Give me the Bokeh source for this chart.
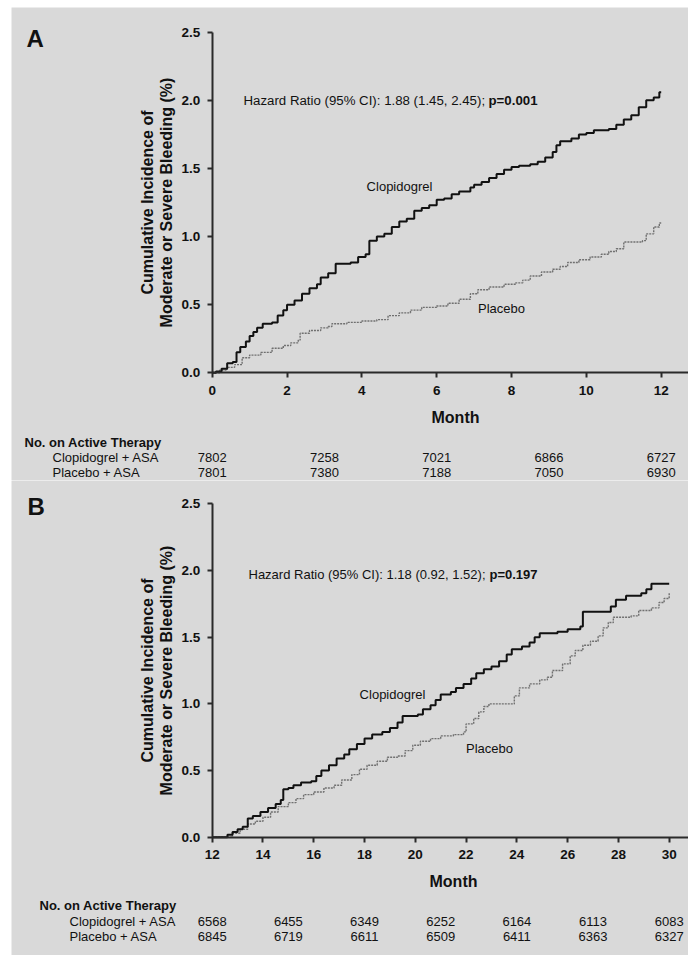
from bokeh.plotting import figure
from bokeh.models import (Range1d, Label, LabelSet, ColumnDataSource,
                          FixedTicker, NumeralTickFormatter)
from bokeh.layouts import column
from bokeh.core.properties import value
from bokeh.embed import file_html
from bokeh.resources import INLINE
import math

FONT = "Liberation Sans"
BG = "#d9d9d9"
INK = "#111111"

# ---------------- Panel A data (months 0-12) ----------------
a_clop_month = [0.0, 0.1, 0.25, 0.4, 0.55, 0.65, 0.75, 0.9, 1.0, 1.1, 1.2, 1.35, 1.6, 1.75,
                1.9, 2.0, 2.2, 2.4, 2.6, 2.8, 2.9, 3.1, 3.3, 3.7, 3.9, 4.1, 4.2, 4.4, 4.6,
                4.8, 5.0, 5.2, 5.4, 5.6, 5.8, 6.0, 6.2, 6.4, 6.6, 6.9, 7.0, 7.2, 7.4, 7.6,
                7.8, 8.0, 8.2, 8.5, 8.7, 8.9, 9.1, 9.2, 9.3, 9.6, 9.8, 10.0, 10.2, 10.6,
                10.8, 11.0, 11.2, 11.4, 11.6, 11.8, 11.95, 12.0]
a_clop_value = [0.00, 0.01, 0.03, 0.07, 0.08, 0.15, 0.19, 0.23, 0.27, 0.30, 0.33, 0.36, 0.37,
                0.42, 0.46, 0.50, 0.53, 0.58, 0.62, 0.65, 0.70, 0.73, 0.80, 0.81, 0.85, 0.87,
                0.97, 1.00, 1.02, 1.07, 1.11, 1.13, 1.19, 1.21, 1.23, 1.27, 1.28, 1.31, 1.33,
                1.36, 1.38, 1.40, 1.43, 1.46, 1.49, 1.51, 1.52, 1.53, 1.55, 1.58, 1.62, 1.67,
                1.70, 1.72, 1.75, 1.76, 1.78, 1.79, 1.82, 1.86, 1.89, 1.95, 2.00, 2.02, 2.06,
                2.06]
a_plac_month = [0.0, 0.2, 0.4, 0.6, 0.8, 1.0, 1.3, 1.6, 1.9, 2.1, 2.3, 2.35, 2.6, 2.9, 3.1,
                3.2, 3.6, 4.0, 4.4, 4.7, 5.0, 5.3, 5.6, 6.0, 6.3, 6.6, 6.9, 7.1, 7.4, 7.8,
                8.1, 8.3, 8.5, 8.8, 9.1, 9.3, 9.5, 9.8, 10.1, 10.4, 10.6, 10.8, 11.0, 11.5,
                11.6, 11.8, 11.95, 12.0]
a_plac_value = [0.00, 0.02, 0.04, 0.06, 0.11, 0.13, 0.15, 0.18, 0.20, 0.22, 0.24, 0.29, 0.31,
                0.33, 0.34, 0.36, 0.37, 0.38, 0.39, 0.42, 0.44, 0.46, 0.48, 0.49, 0.51, 0.54,
                0.58, 0.61, 0.63, 0.65, 0.66, 0.68, 0.71, 0.74, 0.76, 0.78, 0.81, 0.83, 0.85,
                0.87, 0.89, 0.91, 0.96, 0.97, 1.02, 1.07, 1.10, 1.10]
a_ticks = [0, 2, 4, 6, 8, 10, 12]
a_risk_month = [0, 3, 6, 9, 12]
a_risk_clop = ["7802", "7258", "7021", "6866", "6727"]
a_risk_plac = ["7801", "7380", "7188", "7050", "6930"]
a_hr = "Hazard Ratio (95% CI): 1.88 (1.45, 2.45); "
a_p = "p=0.001"

# ---------------- Panel B data (months 12-30) ----------------
b_clop_month = [12.0, 12.5, 12.6, 12.8, 13.0, 13.2, 13.4, 13.6, 13.9, 14.2, 14.5, 14.7, 14.8,
                15.0, 15.2, 15.5, 15.9, 16.1, 16.3, 16.6, 16.9, 17.2, 17.4, 17.7, 18.0, 18.3,
                18.7, 19.0, 19.3, 19.5, 20.1, 20.3, 20.6, 20.8, 21.0, 21.4, 21.6, 21.9, 22.2,
                22.4, 22.7, 23.0, 23.3, 23.6, 23.8, 24.2, 24.5, 24.7, 24.9, 25.6, 26.0, 26.5,
                26.6, 27.5, 27.7, 27.9, 28.3, 28.9, 29.1, 29.3, 30.0]
b_clop_value = [0.00, 0.00, 0.02, 0.04, 0.06, 0.08, 0.14, 0.16, 0.19, 0.22, 0.25, 0.28, 0.36,
                0.37, 0.39, 0.41, 0.42, 0.46, 0.50, 0.54, 0.59, 0.62, 0.66, 0.70, 0.74, 0.77,
                0.79, 0.82, 0.86, 0.91, 0.92, 0.96, 0.99, 1.03, 1.07, 1.09, 1.12, 1.15, 1.19,
                1.23, 1.26, 1.28, 1.32, 1.37, 1.41, 1.43, 1.46, 1.50, 1.53, 1.54, 1.56, 1.58,
                1.69, 1.69, 1.73, 1.78, 1.81, 1.83, 1.86, 1.90, 1.90]
b_plac_month = [12.0, 12.6, 12.8, 13.1, 13.4, 13.7, 14.0, 14.3, 14.6, 15.0, 15.3, 15.6, 16.0,
                16.4, 16.8, 17.1, 17.5, 17.8, 18.1, 18.5, 18.9, 19.3, 19.6, 19.9, 20.2, 20.6,
                21.0, 21.5, 21.9, 22.0, 22.3, 22.5, 22.7, 22.9, 23.7, 23.9, 24.1, 24.5, 24.9,
                25.2, 25.4, 25.8, 26.1, 26.3, 26.6, 26.9, 27.2, 27.4, 27.6, 27.8, 28.5, 28.8,
                29.3, 29.6, 29.8, 30.0]
b_plac_value = [0.00, 0.00, 0.03, 0.06, 0.10, 0.12, 0.15, 0.19, 0.23, 0.26, 0.29, 0.32, 0.34,
                0.37, 0.39, 0.43, 0.47, 0.51, 0.54, 0.57, 0.60, 0.61, 0.65, 0.69, 0.72, 0.74,
                0.76, 0.77, 0.79, 0.85, 0.89, 0.94, 0.98, 1.00, 1.00, 1.06, 1.12, 1.15, 1.18,
                1.20, 1.25, 1.30, 1.36, 1.40, 1.44, 1.47, 1.51, 1.57, 1.61, 1.65, 1.66, 1.70,
                1.72, 1.76, 1.79, 1.83]
b_ticks = [12, 14, 16, 18, 20, 22, 24, 26, 28, 30]
b_risk_month = [12, 15, 18, 21, 24, 27, 30]
b_risk_clop = ["6568", "6455", "6349", "6252", "6164", "6113", "6083"]
b_risk_plac = ["6845", "6719", "6611", "6509", "6411", "6363", "6327"]
b_hr = "Hazard Ratio (95% CI): 1.18 (0.92, 1.52); "
b_p = "p=0.197"

y_ticks = [0.0, 0.5, 1.0, 1.5, 2.0, 2.5]
y_label_1 = "Cumulative Incidence of"
y_label_2 = "Moderate or Severe Bleeding (%)"
heading = "No. on Active Therapy"
row_names = ["Clopidogrel + ASA", "Placebo + ASA"]

# ---------------- layout geometry (page pixels) ----------------
FIG_LEFT, FIG_W = 11, 677


def panel(letter, top, height, x0, px_per_month, axis_px, axis_py, px_per_unit,
          ticks, cm, cv, pm, pv, risk_m, risk_c, risk_p, hr, p_txt, hr_size, spots):
    # conversion of page pixels into this panel's data coordinates
    def X(px):
        return x0 + (px - axis_px) / px_per_month

    def Y(py):
        return (axis_py - py) / px_per_unit

    x_lo, x_hi = X(FIG_LEFT), X(FIG_LEFT + FIG_W)
    y_lo, y_hi = Y(top + height), Y(top)

    p = figure(width=FIG_W, height=height, x_range=Range1d(x_lo, x_hi),
               y_range=Range1d(y_lo, y_hi), output_backend="svg", toolbar_location=None,
               min_border=0, min_border_left=0, min_border_right=0, min_border_top=0,
               min_border_bottom=0, background_fill_color=BG, border_fill_color=BG,
               outline_line_color=None)
    p.xgrid.visible = False
    p.ygrid.visible = False
    xa, ya = p.xaxis[0], p.yaxis[0]
    xa.fixed_location = 0
    xa.bounds = (x0, x_hi)
    ya.fixed_location = x0
    ya.bounds = (0, 2.5)
    xa.ticker = FixedTicker(ticks=ticks)
    ya.ticker = FixedTicker(ticks=y_ticks)
    ya.formatter = NumeralTickFormatter(format="0.0")
    for ax in (xa, ya):
        ax.axis_line_width = 2
        ax.axis_line_color = "#2a2a2a"
        ax.major_tick_line_width = 2
        ax.major_tick_line_color = "#2a2a2a"
        ax.major_tick_out = 5
        ax.major_tick_in = 0
        ax.minor_tick_out = 0
        ax.minor_tick_in = 0
        ax.major_label_text_font = FONT
        ax.major_label_text_font_style = "bold"
        ax.major_label_text_font_size = "13.5px"
        ax.major_label_text_color = INK
    xa.major_label_standoff = 8
    ya.major_label_standoff = 7

    p.step(pm, pv, mode="after", line_color="#707070", line_width=1.4, line_dash="2 1")
    p.step(cm, cv, mode="after", line_color="#111111", line_width=2)

    def txt(text, px, py, size="13px", style="normal", align="left", angle=0.0):
        p.add_layout(Label(x=X(px), y=Y(py), text=text, text_font=FONT,
                           text_font_size=size, text_font_style=style, text_color=INK,
                           text_align=align, text_baseline="middle", angle=angle))

    s = spots
    txt(letter, *s["letter"], size="24px", style="bold")
    txt(y_label_1, *s["yl1"], size="16px", style="bold", align="center", angle=math.pi / 2)
    txt(y_label_2, *s["yl2"], size="16px", style="bold", align="center", angle=math.pi / 2)
    txt("Month", *s["month"], size="16px", style="bold", align="center")
    txt(hr, *s["hr"], size=hr_size)
    txt(p_txt, *s["p"], size=hr_size, style="bold", align="right")
    txt("Clopidogrel", *s["clop"], align="center")
    txt("Placebo", *s["plac"], align="center")

    # number on active therapy table
    txt(heading, s["head_x"], s["rows_y"][0], style="bold")
    txt(row_names[0], s["row_x"], s["rows_y"][1])
    txt(row_names[1], s["row_x"], s["rows_y"][2])
    src = ColumnDataSource(dict(m=risk_m, c=risk_c, pl=risk_p))
    for col, py in (("c", s["rows_y"][1]), ("pl", s["rows_y"][2])):
        p.add_layout(LabelSet(x="m", y=Y(py), text=col, source=src,
                              text_font=value(FONT), text_font_size="13px",
                              text_color=INK, text_align="center",
                              text_baseline="middle"))
    return p


spots_a = {"letter": (26, 37.5), "yl1": (147, 202), "yl2": (166, 202), "month": (455, 416.5),
           "hr": (243, 100), "p": (537, 100), "clop": (399, 185.7), "plac": (501, 308),
           "head_x": 24, "row_x": 52, "rows_y": (441.5, 456.5, 471.5)}
spots_b = {"letter": (27, 505.5), "yl1": (147, 670), "yl2": (166, 670), "month": (453, 880.7),
           "hr": (248, 574), "p": (537, 574), "clop": (392, 694), "plac": (489, 748.3),
           "head_x": 39, "row_x": 69, "rows_y": (905, 920.7, 935.7)}

pa = panel("A", 7, 473, 0, 449 / 12, 211.7, 372.3, 340.6 / 2.5, a_ticks,
           a_clop_month, a_clop_value, a_plac_month, a_plac_value,
           a_risk_month, a_risk_clop, a_risk_plac, a_hr, a_p, "13.25px", spots_a)
pb = panel("B", 480, 475, 12, 457 / 18, 211.7, 836.8, 333.5 / 2.5, b_ticks,
           b_clop_month, b_clop_value, b_plac_month, b_plac_value,
           b_risk_month, b_risk_clop, b_risk_plac, b_hr, b_p, "13px", spots_b)
pa.margin = (7, 0, 0, FIG_LEFT)
pb.margin = (0, 0, 0, FIG_LEFT)

layout = column(pa, pb, spacing=0)
open("out.html", "w").write(file_html(layout, INLINE))
